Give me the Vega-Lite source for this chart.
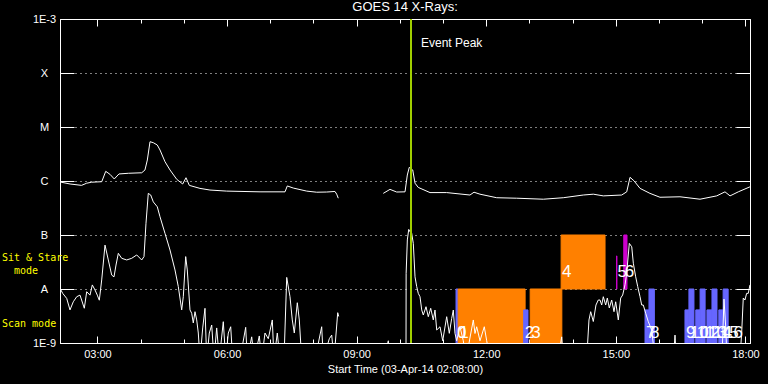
{
  "$schema": "https://vega.github.io/schema/vega-lite/v6.json",
  "width": 690,
  "height": 324,
  "autosize": {"type": "none"},
  "padding": {"left": 60, "top": 19, "right": 18, "bottom": 41},
  "background": "black",
  "title": {"text": "GOES 14 X-Rays:", "color": "white", "fontSize": 13, "font": "Liberation Sans", "fontWeight": "normal", "anchor": "middle", "baseline": "bottom", "offset": -14},
  "config": {
    "view": {"stroke": "white", "strokeWidth": 1},
    "font": "Liberation Sans"
  },
  "datasets": {
    "flux": [
      {"t": "2014-04-03T02:08:00", "ch": "long", "f": 9.6e-7},
      {"t": "2014-04-03T02:22:00", "ch": "long", "f": 8.8e-7},
      {"t": "2014-04-03T02:38:00", "ch": "long", "f": 8.3e-7},
      {"t": "2014-04-03T02:45:00", "ch": "long", "f": 9.1e-7},
      {"t": "2014-04-03T02:52:00", "ch": "long", "f": 9.5e-7},
      {"t": "2014-04-03T03:06:00", "ch": "long", "f": 9.7e-7},
      {"t": "2014-04-03T03:11:30", "ch": "long", "f": 1.51e-6},
      {"t": "2014-04-03T03:17:24", "ch": "long", "f": 1.33e-6},
      {"t": "2014-04-03T03:23:24", "ch": "long", "f": 1.09e-6},
      {"t": "2014-04-03T03:29:54", "ch": "long", "f": 1.35e-6},
      {"t": "2014-04-03T03:42:54", "ch": "long", "f": 1.39e-6},
      {"t": "2014-04-03T04:01:30", "ch": "long", "f": 1.42e-6},
      {"t": "2014-04-03T04:06:00", "ch": "long", "f": 1.6e-6},
      {"t": "2014-04-03T04:09:18", "ch": "long", "f": 2.45e-6},
      {"t": "2014-04-03T04:13:00", "ch": "long", "f": 5.34e-6},
      {"t": "2014-04-03T04:17:36", "ch": "long", "f": 5.12e-6},
      {"t": "2014-04-03T04:23:06", "ch": "long", "f": 4.64e-6},
      {"t": "2014-04-03T04:26:54", "ch": "long", "f": 3.75e-6},
      {"t": "2014-04-03T04:33:48", "ch": "long", "f": 2.28e-6},
      {"t": "2014-04-03T04:40:48", "ch": "long", "f": 1.6e-6},
      {"t": "2014-04-03T04:50:06", "ch": "long", "f": 1.075e-6},
      {"t": "2014-04-03T04:58:24", "ch": "long", "f": 8.8e-7},
      {"t": "2014-04-03T05:03:00", "ch": "long", "f": 1.15e-6},
      {"t": "2014-04-03T05:07:36", "ch": "long", "f": 8.3e-7},
      {"t": "2014-04-03T05:22:24", "ch": "long", "f": 7.3e-7},
      {"t": "2014-04-03T05:36:18", "ch": "long", "f": 6.8e-7},
      {"t": "2014-04-03T05:59:30", "ch": "long", "f": 6.5e-7},
      {"t": "2014-04-03T06:45:48", "ch": "long", "f": 6.3e-7},
      {"t": "2014-04-03T07:20:30", "ch": "long", "f": 6.3e-7},
      {"t": "2014-04-03T07:23:42", "ch": "long", "f": 8.1e-7},
      {"t": "2014-04-03T07:32:00", "ch": "long", "f": 7.4e-7},
      {"t": "2014-04-03T07:50:36", "ch": "long", "f": 6.5e-7},
      {"t": "2014-04-03T08:04:30", "ch": "long", "f": 6.2e-7},
      {"t": "2014-04-03T08:18:24", "ch": "long", "f": 6.25e-7},
      {"t": "2014-04-03T08:29:54", "ch": "long", "f": 6.4e-7},
      {"t": "2014-04-03T08:32:18", "ch": "long", "f": 5.7e-7},
      {"t": "2014-04-03T08:34:30", "ch": "long", "f": 4.8e-7},
      {"t": "2014-04-03T09:00:00", "ch": "long", "f": null},
      {"t": "2014-04-03T09:37:00", "ch": "long", "f": 5.9e-7},
      {"t": "2014-04-03T09:46:18", "ch": "long", "f": 7.0e-7},
      {"t": "2014-04-03T09:55:36", "ch": "long", "f": 6.25e-7},
      {"t": "2014-04-03T10:07:12", "ch": "long", "f": 6.3e-7},
      {"t": "2014-04-03T10:10:24", "ch": "long", "f": 1.29e-6},
      {"t": "2014-04-03T10:13:06", "ch": "long", "f": 1.79e-6},
      {"t": "2014-04-03T10:17:54", "ch": "long", "f": 1.6e-6},
      {"t": "2014-04-03T10:21:06", "ch": "long", "f": 9.1e-7},
      {"t": "2014-04-03T10:25:36", "ch": "long", "f": 7.6e-7},
      {"t": "2014-04-03T10:41:54", "ch": "long", "f": 6.1e-7},
      {"t": "2014-04-03T11:05:00", "ch": "long", "f": 6.1e-7},
      {"t": "2014-04-03T11:37:24", "ch": "long", "f": 5.5e-7},
      {"t": "2014-04-03T11:43:00", "ch": "long", "f": 6.2e-7},
      {"t": "2014-04-03T11:51:18", "ch": "long", "f": 5.7e-7},
      {"t": "2014-04-03T12:14:30", "ch": "long", "f": 4.9e-7},
      {"t": "2014-04-03T12:42:18", "ch": "long", "f": 4.8e-7},
      {"t": "2014-04-03T13:19:18", "ch": "long", "f": 4.6e-7},
      {"t": "2014-04-03T13:47:00", "ch": "long", "f": 4.9e-7},
      {"t": "2014-04-03T14:14:48", "ch": "long", "f": 5.5e-7},
      {"t": "2014-04-03T14:28:42", "ch": "long", "f": 5.7e-7},
      {"t": "2014-04-03T14:42:36", "ch": "long", "f": 5.3e-7},
      {"t": "2014-04-03T15:08:06", "ch": "long", "f": 5.5e-7},
      {"t": "2014-04-03T15:15:06", "ch": "long", "f": 6.3e-7},
      {"t": "2014-04-03T15:19:42", "ch": "long", "f": 1.17e-6},
      {"t": "2014-04-03T15:25:12", "ch": "long", "f": 1.01e-6},
      {"t": "2014-04-03T15:33:36", "ch": "long", "f": 7.3e-7},
      {"t": "2014-04-03T15:47:24", "ch": "long", "f": 5.9e-7},
      {"t": "2014-04-03T16:01:18", "ch": "long", "f": 5.0e-7},
      {"t": "2014-04-03T16:29:06", "ch": "long", "f": 5.1e-7},
      {"t": "2014-04-03T16:56:54", "ch": "long", "f": 4.6e-7},
      {"t": "2014-04-03T17:20:06", "ch": "long", "f": 5.3e-7},
      {"t": "2014-04-03T17:31:36", "ch": "long", "f": 6.3e-7},
      {"t": "2014-04-03T17:38:36", "ch": "long", "f": 5.3e-7},
      {"t": "2014-04-03T17:50:06", "ch": "long", "f": 6.3e-7},
      {"t": "2014-04-03T18:06:18", "ch": "long", "f": 7.8e-7},

      {"t": "2014-04-03T02:08:00", "ch": "short", "f": 1.03e-8},
      {"t": "2014-04-03T02:11:45", "ch": "short", "f": 8.3e-9},
      {"t": "2014-04-03T02:17:18", "ch": "short", "f": 6.7e-9},
      {"t": "2014-04-03T02:21:53", "ch": "short", "f": 4.1e-9},
      {"t": "2014-04-03T02:26:28", "ch": "short", "f": 5.8e-9},
      {"t": "2014-04-03T02:31:12", "ch": "short", "f": 7.2e-9},
      {"t": "2014-04-03T02:35:47", "ch": "short", "f": 7.7e-9},
      {"t": "2014-04-03T02:41:45", "ch": "short", "f": 4.4e-9},
      {"t": "2014-04-03T02:45:05", "ch": "short", "f": 8.9e-9},
      {"t": "2014-04-03T02:49:40", "ch": "short", "f": 7.7e-9},
      {"t": "2014-04-03T02:52:52", "ch": "short", "f": 1.19e-8},
      {"t": "2014-04-03T02:56:36", "ch": "short", "f": 9.6e-9},
      {"t": "2014-04-03T02:59:48", "ch": "short", "f": 7.7e-9},
      {"t": "2014-04-03T03:02:35", "ch": "short", "f": 6.2e-9},
      {"t": "2014-04-03T03:05:55", "ch": "short", "f": 1.47e-8},
      {"t": "2014-04-03T03:10:30", "ch": "short", "f": 6.5e-8},
      {"t": "2014-04-03T03:15:05", "ch": "short", "f": 3.45e-8},
      {"t": "2014-04-03T03:19:48", "ch": "short", "f": 1.81e-8},
      {"t": "2014-04-03T03:23:00", "ch": "short", "f": 1.68e-8},
      {"t": "2014-04-03T03:25:47", "ch": "short", "f": 2.78e-8},
      {"t": "2014-04-03T03:29:00", "ch": "short", "f": 4.58e-8},
      {"t": "2014-04-03T03:33:42", "ch": "short", "f": 3.7e-8},
      {"t": "2014-04-03T03:40:38", "ch": "short", "f": 3.45e-8},
      {"t": "2014-04-03T03:47:35", "ch": "short", "f": 3.7e-8},
      {"t": "2014-04-03T03:54:32", "ch": "short", "f": 4.27e-8},
      {"t": "2014-04-03T04:01:28", "ch": "short", "f": 3.45e-8},
      {"t": "2014-04-03T04:04:40", "ch": "short", "f": 3.98e-8},
      {"t": "2014-04-03T04:07:26", "ch": "short", "f": 1.65e-7},
      {"t": "2014-04-03T04:10:38", "ch": "short", "f": 5.9e-7},
      {"t": "2014-04-03T04:14:00", "ch": "short", "f": 5.5e-7},
      {"t": "2014-04-03T04:17:35", "ch": "short", "f": 4.1e-7},
      {"t": "2014-04-03T04:23:08", "ch": "short", "f": 3.33e-7},
      {"t": "2014-04-03T04:26:53", "ch": "short", "f": 2.18e-7},
      {"t": "2014-04-03T04:33:50", "ch": "short", "f": 1.07e-7},
      {"t": "2014-04-03T04:40:47", "ch": "short", "f": 5.27e-8},
      {"t": "2014-04-03T04:47:43", "ch": "short", "f": 2.25e-8},
      {"t": "2014-04-03T04:52:18", "ch": "short", "f": 1.11e-8},
      {"t": "2014-04-03T04:57:01", "ch": "short", "f": 4.1e-9},
      {"t": "2014-04-03T04:59:15", "ch": "short", "f": 7.2e-9},
      {"t": "2014-04-03T05:02:35", "ch": "short", "f": 3.98e-8},
      {"t": "2014-04-03T05:04:48", "ch": "short", "f": 2.25e-8},
      {"t": "2014-04-03T05:08:33", "ch": "short", "f": 4.1e-9},
      {"t": "2014-04-03T05:10:55", "ch": "short", "f": 3.55e-9},
      {"t": "2014-04-03T05:13:08", "ch": "short", "f": 2.35e-9},
      {"t": "2014-04-03T05:15:30", "ch": "short", "f": 3.8e-9},
      {"t": "2014-04-03T05:17:52", "ch": "short", "f": 2.67e-9},
      {"t": "2014-04-03T05:20:05", "ch": "short", "f": 1.53e-9},
      {"t": "2014-04-03T05:22:27", "ch": "short", "f": 5e-10},
      {"t": "2014-04-03T05:26:12", "ch": "short", "f": 1.9e-9},
      {"t": "2014-04-03T05:29:23", "ch": "short", "f": 4.39e-9},
      {"t": "2014-04-03T05:31:45", "ch": "short", "f": 5e-10},
      {"t": "2014-04-03T05:35:22", "ch": "short", "f": 1.53e-9},
      {"t": "2014-04-03T05:38:42", "ch": "short", "f": 2.15e-9},
      {"t": "2014-04-03T05:41:53", "ch": "short", "f": 5e-10},
      {"t": "2014-04-03T05:45:38", "ch": "short", "f": 1.9e-9},
      {"t": "2014-04-03T05:49:15", "ch": "short", "f": 5e-10},
      {"t": "2014-04-03T05:54:48", "ch": "short", "f": 2.48e-9},
      {"t": "2014-04-03T05:58:08", "ch": "short", "f": 5e-10},
      {"t": "2014-04-03T06:01:45", "ch": "short", "f": 1.53e-9},
      {"t": "2014-04-03T06:05:05", "ch": "short", "f": 2.0e-9},
      {"t": "2014-04-03T06:07:52", "ch": "short", "f": 5e-10},
      {"t": "2014-04-03T06:18:00", "ch": "short", "f": 5e-10},
      {"t": "2014-04-03T06:25:55", "ch": "short", "f": 1.95e-9},
      {"t": "2014-04-03T06:28:08", "ch": "short", "f": 5e-10},
      {"t": "2014-04-03T06:34:15", "ch": "short", "f": 1.3e-9},
      {"t": "2014-04-03T06:37:52", "ch": "short", "f": 5e-10},
      {"t": "2014-04-03T06:44:48", "ch": "short", "f": 1.35e-9},
      {"t": "2014-04-03T06:48:08", "ch": "short", "f": 5e-10},
      {"t": "2014-04-03T06:52:43", "ch": "short", "f": 1.53e-9},
      {"t": "2014-04-03T06:57:18", "ch": "short", "f": 1.2e-9},
      {"t": "2014-04-03T07:02:52", "ch": "short", "f": 2.67e-9},
      {"t": "2014-04-03T07:05:13", "ch": "short", "f": 5e-10},
      {"t": "2014-04-03T07:09:48", "ch": "short", "f": 1.53e-9},
      {"t": "2014-04-03T07:13:33", "ch": "short", "f": 5e-10},
      {"t": "2014-04-03T07:19:07", "ch": "short", "f": 5e-10},
      {"t": "2014-04-03T07:22:52", "ch": "short", "f": 1.64e-8},
      {"t": "2014-04-03T07:27:26", "ch": "short", "f": 7.2e-9},
      {"t": "2014-04-03T07:30:38", "ch": "short", "f": 2.67e-9},
      {"t": "2014-04-03T07:33:25", "ch": "short", "f": 1.53e-9},
      {"t": "2014-04-03T07:37:35", "ch": "short", "f": 5.57e-9},
      {"t": "2014-04-03T07:40:22", "ch": "short", "f": 2.67e-9},
      {"t": "2014-04-03T07:43:42", "ch": "short", "f": 5e-10},
      {"t": "2014-04-03T07:48:17", "ch": "short", "f": 8e-10},
      {"t": "2014-04-03T07:55:14", "ch": "short", "f": 5e-10},
      {"t": "2014-04-03T08:02:10", "ch": "short", "f": 5e-10},
      {"t": "2014-04-03T08:11:28", "ch": "short", "f": 2.0e-9},
      {"t": "2014-04-03T08:13:42", "ch": "short", "f": 5e-10},
      {"t": "2014-04-03T08:22:02", "ch": "short", "f": 1.2e-9},
      {"t": "2014-04-03T08:25:22", "ch": "short", "f": 1.4e-9},
      {"t": "2014-04-03T08:28:34", "ch": "short", "f": 5e-10},
      {"t": "2014-04-03T08:33:42", "ch": "short", "f": 3.64e-9},
      {"t": "2014-04-03T08:35:05", "ch": "short", "f": 3.1e-9},
      {"t": "2014-04-03T09:00:00", "ch": "short", "f": null},
      {"t": "2014-04-03T09:37:00", "ch": "short", "f": 5e-10},
      {"t": "2014-04-03T09:44:00", "ch": "short", "f": 1.1e-9},
      {"t": "2014-04-03T09:46:20", "ch": "short", "f": 5e-10},
      {"t": "2014-04-03T10:08:33", "ch": "short", "f": 5e-10},
      {"t": "2014-04-03T10:08:45", "ch": "short", "f": 1.95e-8},
      {"t": "2014-04-03T10:10:25", "ch": "short", "f": 8.1e-8},
      {"t": "2014-04-03T10:12:20", "ch": "short", "f": 1.27e-7},
      {"t": "2014-04-03T10:14:07", "ch": "short", "f": 1.15e-7},
      {"t": "2014-04-03T10:16:28", "ch": "short", "f": 1.07e-7},
      {"t": "2014-04-03T10:18:42", "ch": "short", "f": 7.0e-8},
      {"t": "2014-04-03T10:21:05", "ch": "short", "f": 1.68e-8},
      {"t": "2014-04-03T10:23:25", "ch": "short", "f": 1.11e-8},
      {"t": "2014-04-03T10:25:38", "ch": "short", "f": 8.3e-9},
      {"t": "2014-04-03T10:28:00", "ch": "short", "f": 7.2e-9},
      {"t": "2014-04-03T10:30:22", "ch": "short", "f": 4.1e-9},
      {"t": "2014-04-03T10:32:35", "ch": "short", "f": 3.3e-9},
      {"t": "2014-04-03T10:36:20", "ch": "short", "f": 4.7e-9},
      {"t": "2014-04-03T10:39:32", "ch": "short", "f": 3.07e-9},
      {"t": "2014-04-03T10:42:52", "ch": "short", "f": 4.39e-9},
      {"t": "2014-04-03T10:46:28", "ch": "short", "f": 2.67e-9},
      {"t": "2014-04-03T10:48:50", "ch": "short", "f": 4.08e-9},
      {"t": "2014-04-03T10:51:12", "ch": "short", "f": 1.74e-9},
      {"t": "2014-04-03T10:55:47", "ch": "short", "f": 2.0e-9},
      {"t": "2014-04-03T10:59:32", "ch": "short", "f": 1.1e-9},
      {"t": "2014-04-03T11:05:05", "ch": "short", "f": 3.07e-9},
      {"t": "2014-04-03T11:08:42", "ch": "short", "f": 1.51e-9},
      {"t": "2014-04-03T11:12:02", "ch": "short", "f": 2.86e-9},
      {"t": "2014-04-03T11:14:15", "ch": "short", "f": 4.08e-9},
      {"t": "2014-04-03T11:16:36", "ch": "short", "f": 1.51e-9},
      {"t": "2014-04-03T11:18:55", "ch": "short", "f": 1.1e-9},
      {"t": "2014-04-03T11:23:33", "ch": "short", "f": 2.0e-9},
      {"t": "2014-04-03T11:28:08", "ch": "short", "f": 1.1e-9},
      {"t": "2014-04-03T11:31:53", "ch": "short", "f": 5e-10},
      {"t": "2014-04-03T11:42:02", "ch": "short", "f": 2.67e-9},
      {"t": "2014-04-03T11:44:23", "ch": "short", "f": 1.5e-9},
      {"t": "2014-04-03T11:46:45", "ch": "short", "f": 2.0e-9},
      {"t": "2014-04-03T11:51:20", "ch": "short", "f": 1.1e-9},
      {"t": "2014-04-03T11:57:18", "ch": "short", "f": 2.0e-9},
      {"t": "2014-04-03T12:00:38", "ch": "short", "f": 1.1e-9},
      {"t": "2014-04-03T12:05:13", "ch": "short", "f": 5e-10},
      {"t": "2014-04-03T13:40:00", "ch": "short", "f": 5e-10},
      {"t": "2014-04-03T13:44:48", "ch": "short", "f": 1.3e-9},
      {"t": "2014-04-03T13:47:00", "ch": "short", "f": 5e-10},
      {"t": "2014-04-03T14:19:30", "ch": "short", "f": 5e-10},
      {"t": "2014-04-03T14:22:42", "ch": "short", "f": 2.67e-9},
      {"t": "2014-04-03T14:25:06", "ch": "short", "f": 3.8e-9},
      {"t": "2014-04-03T14:28:42", "ch": "short", "f": 2.5e-9},
      {"t": "2014-04-03T14:32:24", "ch": "short", "f": 5.05e-9},
      {"t": "2014-04-03T14:35:36", "ch": "short", "f": 6.25e-9},
      {"t": "2014-04-03T14:38:00", "ch": "short", "f": 6.25e-9},
      {"t": "2014-04-03T14:40:22", "ch": "short", "f": 5.05e-9},
      {"t": "2014-04-03T14:42:36", "ch": "short", "f": 7.2e-9},
      {"t": "2014-04-03T14:45:54", "ch": "short", "f": 5.05e-9},
      {"t": "2014-04-03T14:48:10", "ch": "short", "f": 6.8e-9},
      {"t": "2014-04-03T14:50:56", "ch": "short", "f": 4.45e-9},
      {"t": "2014-04-03T14:54:15", "ch": "short", "f": 6.25e-9},
      {"t": "2014-04-03T14:57:26", "ch": "short", "f": 3.8e-9},
      {"t": "2014-04-03T14:59:48", "ch": "short", "f": 5.8e-9},
      {"t": "2014-04-03T15:03:25", "ch": "short", "f": 2.67e-9},
      {"t": "2014-04-03T15:06:43", "ch": "short", "f": 6.8e-9},
      {"t": "2014-04-03T15:09:30", "ch": "short", "f": 7.74e-9},
      {"t": "2014-04-03T15:12:45", "ch": "short", "f": 1.2e-8},
      {"t": "2014-04-03T15:15:05", "ch": "short", "f": 1.95e-8},
      {"t": "2014-04-03T15:18:42", "ch": "short", "f": 7.0e-8},
      {"t": "2014-04-03T15:22:05", "ch": "short", "f": 6.05e-8},
      {"t": "2014-04-03T15:24:18", "ch": "short", "f": 3.0e-8},
      {"t": "2014-04-03T15:27:35", "ch": "short", "f": 1.68e-8},
      {"t": "2014-04-03T15:30:22", "ch": "short", "f": 1.11e-8},
      {"t": "2014-04-03T15:33:35", "ch": "short", "f": 7.2e-9},
      {"t": "2014-04-03T15:35:55", "ch": "short", "f": 5.05e-9},
      {"t": "2014-04-03T15:38:08", "ch": "short", "f": 5.05e-9},
      {"t": "2014-04-03T15:41:28", "ch": "short", "f": 3.55e-9},
      {"t": "2014-04-03T15:45:05", "ch": "short", "f": 2.48e-9},
      {"t": "2014-04-03T15:49:48", "ch": "short", "f": 1.74e-9},
      {"t": "2014-04-03T15:54:24", "ch": "short", "f": 5e-10},
      {"t": "2014-04-03T16:20:00", "ch": "short", "f": 5e-10},
      {"t": "2014-04-03T16:22:10", "ch": "short", "f": 1.4e-9},
      {"t": "2014-04-03T16:24:00", "ch": "short", "f": 5e-10},
      {"t": "2014-04-03T17:27:24", "ch": "short", "f": 5e-10},
      {"t": "2014-04-03T17:30:12", "ch": "short", "f": 6.5e-9},
      {"t": "2014-04-03T17:32:36", "ch": "short", "f": 2.0e-9},
      {"t": "2014-04-03T17:34:24", "ch": "short", "f": 5e-10},
      {"t": "2014-04-03T17:52:24", "ch": "short", "f": 5e-10},
      {"t": "2014-04-03T17:54:45", "ch": "short", "f": 1.53e-9},
      {"t": "2014-04-03T17:57:00", "ch": "short", "f": 6.8e-9},
      {"t": "2014-04-03T17:59:20", "ch": "short", "f": 6.25e-9},
      {"t": "2014-04-03T18:01:40", "ch": "short", "f": 8.3e-9},
      {"t": "2014-04-03T18:03:55", "ch": "short", "f": 8.3e-9},
      {"t": "2014-04-03T18:06:18", "ch": "short", "f": 1.19e-8}
    ],
    "blocks": [
      {"obs": 0, "start": "2014-04-03T11:18:00", "end": "2014-04-03T11:21:00", "low": 1e-9, "high": 1e-8, "mode": "scan"},
      {"obs": 1, "start": "2014-04-03T11:21:00", "end": "2014-04-03T12:54:00", "low": 1e-9, "high": 1e-8, "mode": "raster"},
      {"obs": 2, "start": "2014-04-03T12:52:00", "end": "2014-04-03T12:58:00", "low": 1e-9, "high": 4.1e-9, "mode": "scan"},
      {"obs": 3, "start": "2014-04-03T13:01:00", "end": "2014-04-03T13:45:00", "low": 1e-9, "high": 1e-8, "mode": "raster"},
      {"obs": 4, "start": "2014-04-03T13:44:00", "end": "2014-04-03T14:45:00", "low": 1e-8, "high": 1e-7, "mode": "raster"},
      {"obs": 5, "start": "2014-04-03T15:01:00", "end": "2014-04-03T15:01:30", "low": 1e-8, "high": 4.1e-8, "mode": "stare"},
      {"obs": 6, "start": "2014-04-03T15:11:00", "end": "2014-04-03T15:15:30", "low": 1e-8, "high": 1e-7, "mode": "stare"},
      {"obs": 7, "start": "2014-04-03T15:40:30", "end": "2014-04-03T15:46:00", "low": 1e-9, "high": 4.1e-9, "mode": "scan"},
      {"obs": 8, "start": "2014-04-03T15:46:00", "end": "2014-04-03T15:53:30", "low": 1e-9, "high": 1e-8, "mode": "scan"},
      {"obs": 9, "start": "2014-04-03T16:36:00", "end": "2014-04-03T16:41:30", "low": 1e-9, "high": 4.1e-9, "mode": "scan"},
      {"obs": 10, "start": "2014-04-03T16:41:30", "end": "2014-04-03T16:48:30", "low": 1e-9, "high": 1e-8, "mode": "scan"},
      {"obs": 11, "start": "2014-04-03T16:51:00", "end": "2014-04-03T16:57:00", "low": 1e-9, "high": 4.1e-9, "mode": "scan"},
      {"obs": 12, "start": "2014-04-03T16:57:00", "end": "2014-04-03T17:04:00", "low": 1e-9, "high": 1e-8, "mode": "scan"},
      {"obs": 13, "start": "2014-04-03T17:06:30", "end": "2014-04-03T17:13:30", "low": 1e-9, "high": 4.1e-9, "mode": "scan"},
      {"obs": 14, "start": "2014-04-03T17:13:30", "end": "2014-04-03T17:20:30", "low": 1e-9, "high": 1e-8, "mode": "scan"},
      {"obs": 15, "start": "2014-04-03T17:23:00", "end": "2014-04-03T17:29:00", "low": 1e-9, "high": 4.1e-9, "mode": "scan"},
      {"obs": 16, "start": "2014-04-03T17:29:00", "end": "2014-04-03T17:36:00", "low": 1e-9, "high": 1e-8, "mode": "scan"}
    ],
    "event": [
      {"t": "2014-04-03T10:15:30", "f": 3.6e-4, "label": "Event Peak"}
    ],
    "modes": [
      {"t": "2014-04-03T02:08:00", "f": 3.75e-8, "label": "Sit & Stare", "indent": "no"},
      {"t": "2014-04-03T02:08:00", "f": 2.15e-8, "label": "mode", "indent": "yes"},
      {"t": "2014-04-03T02:08:00", "f": 2.25e-9, "label": "Scan mode", "indent": "no"}
    ]
  },
  "layer": [
    {
      "data": {"name": "blocks"},
      "mark": {"type": "rect", "strokeWidth": 1, "clip": true},
      "encoding": {
        "x": {
          "field": "start", "type": "temporal",
          "scale": {"domain": [{"year": 2014, "month": 4, "date": 3, "hours": 2, "minutes": 8}, {"year": 2014, "month": 4, "date": 3, "hours": 18, "minutes": 6, "seconds": 20}]},
          "axis": {
            "orient": "bottom",
            "values": [
              {"year": 2014, "month": 4, "date": 3, "hours": 3}, {"year": 2014, "month": 4, "date": 3, "hours": 4}, {"year": 2014, "month": 4, "date": 3, "hours": 5}, {"year": 2014, "month": 4, "date": 3, "hours": 6},
              {"year": 2014, "month": 4, "date": 3, "hours": 7}, {"year": 2014, "month": 4, "date": 3, "hours": 8}, {"year": 2014, "month": 4, "date": 3, "hours": 9}, {"year": 2014, "month": 4, "date": 3, "hours": 10},
              {"year": 2014, "month": 4, "date": 3, "hours": 11}, {"year": 2014, "month": 4, "date": 3, "hours": 12}, {"year": 2014, "month": 4, "date": 3, "hours": 13}, {"year": 2014, "month": 4, "date": 3, "hours": 14},
              {"year": 2014, "month": 4, "date": 3, "hours": 15}, {"year": 2014, "month": 4, "date": 3, "hours": 16}, {"year": 2014, "month": 4, "date": 3, "hours": 17}, {"year": 2014, "month": 4, "date": 3, "hours": 18}
            ],
            "labelExpr": "hours(datum.value) % 3 === 0 ? timeFormat(datum.value, '%H:%M') : ''",
            "tickSize": {"condition": {"test": "hours(datum.value) % 3 === 0", "value": -7}, "value": -4},
            "tickColor": "white", "domainColor": "white", "grid": false,
            "labelColor": "white", "labelFont": "Liberation Sans", "labelFontSize": 11, "labelPadding": 12,
            "labelFlush": false, "labelOverlap": false,
            "title": "Start Time (03-Apr-14 02:08:00)", "titleColor": "white", "titleFont": "Liberation Sans", "titleFontSize": 11, "titleFontWeight": "normal", "titlePadding": 1
          }
        },
        "x2": {"field": "end"},
        "y": {
          "field": "low", "type": "quantitative",
          "scale": {"type": "log", "domain": [1e-9, 1e-3], "nice": false},
          "axis": {
            "orient": "left",
            "values": [1e-9, 1e-8, 1e-7, 1e-6, 1e-5, 1e-4, 1e-3],
            "labelExpr": "datum.value < 3e-9 ? '1E-9' : datum.value < 3e-8 ? 'A' : datum.value < 3e-7 ? 'B' : datum.value < 3e-6 ? 'C' : datum.value < 3e-5 ? 'M' : datum.value < 3e-4 ? 'X' : '1E-3'",
            "tickSize": -14, "tickColor": "white", "domainColor": "white",
            "grid": true, "gridColor": "white", "gridDash": [1, 4], "gridWidth": 1,
            "labelColor": "white", "labelFont": "Liberation Sans", "labelFontSize": 11, "labelAlign": "center", "labelBaseline": "middle", "labelPadding": 30,
            "labelFlush": false, "labelOverlap": false, "title": null
          }
        },
        "y2": {"field": "high"},
        "fill": {"field": "mode", "type": "nominal", "scale": {"domain": ["raster", "scan", "stare"], "range": ["#ff8000", "#6666ff", "#cc00cc"]}, "legend": null},
        "stroke": {"field": "mode", "type": "nominal", "scale": {"domain": ["raster", "scan", "stare"], "range": ["#ff8000", "#6666ff", "#cc00cc"]}, "legend": null}
      }
    },
    {
      "data": {"name": "flux"},
      "mark": {"type": "line", "color": "white", "strokeWidth": 1, "clip": true, "invalid": "break-paths-show-domains"},
      "encoding": {
        "x": {
          "field": "t", "type": "temporal",
          "scale": {"domain": [{"year": 2014, "month": 4, "date": 3, "hours": 2, "minutes": 8}, {"year": 2014, "month": 4, "date": 3, "hours": 18, "minutes": 6, "seconds": 20}]},
          "axis": {
            "orient": "top",
            "values": [
              {"year": 2014, "month": 4, "date": 3, "hours": 3}, {"year": 2014, "month": 4, "date": 3, "hours": 4}, {"year": 2014, "month": 4, "date": 3, "hours": 5}, {"year": 2014, "month": 4, "date": 3, "hours": 6},
              {"year": 2014, "month": 4, "date": 3, "hours": 7}, {"year": 2014, "month": 4, "date": 3, "hours": 8}, {"year": 2014, "month": 4, "date": 3, "hours": 9}, {"year": 2014, "month": 4, "date": 3, "hours": 10},
              {"year": 2014, "month": 4, "date": 3, "hours": 11}, {"year": 2014, "month": 4, "date": 3, "hours": 12}, {"year": 2014, "month": 4, "date": 3, "hours": 13}, {"year": 2014, "month": 4, "date": 3, "hours": 14},
              {"year": 2014, "month": 4, "date": 3, "hours": 15}, {"year": 2014, "month": 4, "date": 3, "hours": 16}, {"year": 2014, "month": 4, "date": 3, "hours": 17}, {"year": 2014, "month": 4, "date": 3, "hours": 18}
            ],
            "labels": false,
            "tickSize": {"condition": {"test": "hours(datum.value) % 3 === 0", "value": -7}, "value": -4},
            "tickColor": "white", "domainColor": "white", "grid": false, "title": null
          }
        },
        "y": {
          "field": "f", "type": "quantitative",
          "scale": {"type": "log", "domain": [1e-9, 1e-3], "nice": false},
          "axis": {
            "orient": "right",
            "values": [1e-9, 1e-8, 1e-7, 1e-6, 1e-5, 1e-4, 1e-3],
            "labels": false, "tickSize": -14, "tickColor": "white", "domainColor": "white", "grid": false, "title": null
          }
        },
        "detail": {"field": "ch", "type": "nominal"}
      }
    },
    {
      "data": {"name": "blocks"},
      "transform": [{"filter": "datum.low < 5e-9"}],
      "mark": {"type": "text", "color": "white", "font": "Liberation Sans", "fontSize": 17, "align": "left", "baseline": "middle", "dx": 1, "dy": -10},
      "encoding": {
        "x": {"field": "start", "type": "temporal", "scale": {"domain": [{"year": 2014, "month": 4, "date": 3, "hours": 2, "minutes": 8}, {"year": 2014, "month": 4, "date": 3, "hours": 18, "minutes": 6, "seconds": 20}]}, "axis": null},
        "y": {"field": "low", "type": "quantitative", "scale": {"type": "log", "domain": [1e-9, 1e-3], "nice": false}, "axis": null},
        "text": {"field": "obs", "type": "nominal"}
      }
    },
    {
      "data": {"name": "blocks"},
      "transform": [{"filter": "datum.low >= 5e-9"}],
      "mark": {"type": "text", "color": "white", "font": "Liberation Sans", "fontSize": 17, "align": "left", "baseline": "middle", "dx": 1, "dy": -17},
      "encoding": {
        "x": {"field": "start", "type": "temporal", "scale": {"domain": [{"year": 2014, "month": 4, "date": 3, "hours": 2, "minutes": 8}, {"year": 2014, "month": 4, "date": 3, "hours": 18, "minutes": 6, "seconds": 20}]}, "axis": null},
        "y": {"field": "low", "type": "quantitative", "scale": {"type": "log", "domain": [1e-9, 1e-3], "nice": false}, "axis": null},
        "text": {"field": "obs", "type": "nominal"}
      }
    },
    {
      "data": {"name": "event"},
      "mark": {"type": "rule", "color": "#a0cf00", "strokeWidth": 2},
      "encoding": {
        "x": {"field": "t", "type": "temporal", "scale": {"domain": [{"year": 2014, "month": 4, "date": 3, "hours": 2, "minutes": 8}, {"year": 2014, "month": 4, "date": 3, "hours": 18, "minutes": 6, "seconds": 20}]}, "axis": null}
      }
    },
    {
      "data": {"name": "event"},
      "mark": {"type": "text", "color": "white", "font": "Liberation Sans", "fontSize": 12, "align": "left", "baseline": "middle", "dx": 10},
      "encoding": {
        "x": {"field": "t", "type": "temporal", "scale": {"domain": [{"year": 2014, "month": 4, "date": 3, "hours": 2, "minutes": 8}, {"year": 2014, "month": 4, "date": 3, "hours": 18, "minutes": 6, "seconds": 20}]}, "axis": null},
        "y": {"field": "f", "type": "quantitative", "scale": {"type": "log", "domain": [1e-9, 1e-3], "nice": false}, "axis": null},
        "text": {"field": "label", "type": "nominal"}
      }
    },
    {
      "data": {"name": "modes"},
      "transform": [{"filter": "datum.indent === 'no'"}],
      "mark": {"type": "text", "color": "#ffff00", "font": "DejaVu Sans Mono", "fontSize": 10, "align": "left", "baseline": "middle", "dx": -58, "clip": false},
      "encoding": {
        "x": {"field": "t", "type": "temporal", "scale": {"domain": [{"year": 2014, "month": 4, "date": 3, "hours": 2, "minutes": 8}, {"year": 2014, "month": 4, "date": 3, "hours": 18, "minutes": 6, "seconds": 20}]}, "axis": null},
        "y": {"field": "f", "type": "quantitative", "scale": {"type": "log", "domain": [1e-9, 1e-3], "nice": false}, "axis": null},
        "text": {"field": "label", "type": "nominal"}
      }
    },
    {
      "data": {"name": "modes"},
      "transform": [{"filter": "datum.indent === 'yes'"}],
      "mark": {"type": "text", "color": "#ffff00", "font": "DejaVu Sans Mono", "fontSize": 10, "align": "left", "baseline": "middle", "dx": -46, "clip": false},
      "encoding": {
        "x": {"field": "t", "type": "temporal", "scale": {"domain": [{"year": 2014, "month": 4, "date": 3, "hours": 2, "minutes": 8}, {"year": 2014, "month": 4, "date": 3, "hours": 18, "minutes": 6, "seconds": 20}]}, "axis": null},
        "y": {"field": "f", "type": "quantitative", "scale": {"type": "log", "domain": [1e-9, 1e-3], "nice": false}, "axis": null},
        "text": {"field": "label", "type": "nominal"}
      }
    }
  ],
  "resolve": {"axis": {"x": "independent", "y": "independent"}}
}
